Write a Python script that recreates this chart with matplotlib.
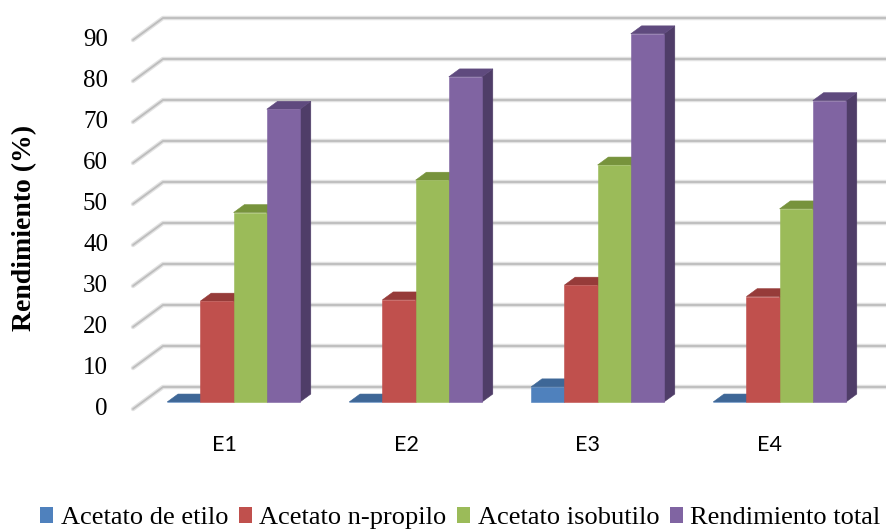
import matplotlib
matplotlib.use("Agg")
import matplotlib.pyplot as plt
from matplotlib.patches import Polygon, Rectangle

# --- data -------------------------------------------------------------
categories = ["E1", "E2", "E3", "E4"]
series_names = ["Acetato de etilo", "Acetato n-propilo",
                "Acetato isobutilo", "Rendimiento total"]
acetato_etilo = [0.0, 0.0, 3.7, 0.0]
acetato_propilo = [24.6, 24.9, 28.5, 25.7]
acetato_isobutilo = [46.2, 54.1, 57.8, 47.1]
rendimiento_total = [71.4, 79.3, 89.8, 73.5]
y_ticks = [0, 10, 20, 30, 40, 50, 60, 70, 80, 90]

series = [acetato_etilo, acetato_propilo, acetato_isobutilo, rendimiento_total]

# front / top / side shades per series (Excel 2007 palette)
front_cols = ["#4F81BD", "#C0504D", "#9BBB59", "#8064A2"]
top_cols = ["#3E6797", "#963B39", "#77933C", "#5F4A7E"]
side_cols = ["#33547C", "#7D3230", "#62782F", "#4F3D68"]

# oblique projection: full depth of the plot box in data units
DX = 30 / 182      # category units
DV = 22 / 4.1      # value units
D0, D1 = 0.32, 0.68  # bars sit in the middle of the depth
BAR_W = 0.1824

SERIF = "Liberation Serif"

fig = plt.figure(figsize=(8.86, 5.31), dpi=100)
ax = fig.add_axes([0, 0, 1, 1])
ax.set_xlim(-224 / 182, (886 - 224) / 182)
ax.set_ylim((409 - 531) / 4.1, 409 / 4.1)
ax.axis("off")

# back wall gridlines + left-side diagonals
x_left = -0.5
x_right = len(categories) - 0.5 + DX
for v in y_ticks:
    xs = [x_left, x_left + DX, x_right]
    ys = [v, v + DV, v + DV]
    ax.plot(xs, ys, color="#e2e2e2", lw=3.2, solid_capstyle="round", zorder=1)
    ax.plot(xs, ys, color="#bdbdbd", lw=1.3, solid_capstyle="round", zorder=1.1)
    ax.text(x_left - 25 / 182, v, f"{v}", ha="right", va="center",
            fontsize=18, family=SERIF, color="black")

# 3D columns
ddx = DX * (D1 - D0)
ddv = DV * (D1 - D0)
z = 2
for i, cat in enumerate(categories):
    center = i + DX * D0
    for k, vals in enumerate(series):
        xl = center + (k - 2) * BAR_W
        xr = xl + BAR_W
        base = DV * D0
        top = vals[i] + base
        side = Polygon([(xr, base), (xr, top), (xr + ddx, top + ddv),
                        (xr + ddx, base + ddv)], closed=True,
                       facecolor=side_cols[k], edgecolor=side_cols[k],
                       lw=0.4, zorder=z)
        cap = Polygon([(xl, top), (xr, top), (xr + ddx, top + ddv),
                       (xl + ddx, top + ddv)], closed=True,
                      facecolor=top_cols[k], edgecolor=top_cols[k],
                      lw=0.4, zorder=z)
        ax.add_patch(side)
        ax.add_patch(cap)
        ax.bar(xl, vals[i], width=BAR_W, bottom=base, align="edge",
               color=front_cols[k], edgecolor=front_cols[k], lw=0.4,
               zorder=z + 0.5)
        z += 1
    ax.text(i, -8.8, cat, ha="center", va="center", fontsize=15.5,
            family="Lato", color="black")

# y axis title
fig.text(25 / 886, 1 - 228 / 531, "Rendimiento (%)", rotation=90,
         ha="center", va="center", fontsize=20, fontweight="bold",
         family=SERIF)

# legend along the bottom
handles = [Rectangle((0, 0), 1, 1, facecolor=c, edgecolor="none")
           for c in front_cols]
fig.legend(handles, series_names, loc="center left",
           bbox_to_anchor=(40 / 886, 1 - 518 / 531), ncol=4,
           frameon=False, borderpad=0, borderaxespad=0,
           handlelength=0.5, handleheight=0.55, handletextpad=0.28,
           columnspacing=0.4,
           prop={"family": SERIF, "size": 19})

fig.savefig("out.png", dpi=100)
